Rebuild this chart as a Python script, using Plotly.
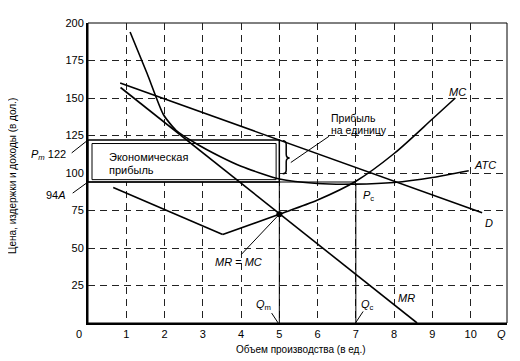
import plotly.graph_objects as go

# ---- data ----
Q_D = [0.84, 10.3]
P_D = [160, 73.5]
Q_MR = [0.85, 8.6]
P_MR = [157, 0]
Q_MC = [0.66, 3.52, 5.0, 6.0, 7.0, 8.0, 9.0, 9.6]
P_MC = [90.4, 59, 72.5, 82, 94.5, 113, 136, 150]
Q_ATC = [1.1, 1.55, 1.97, 2.3, 2.8, 3.45, 4.0, 5.0, 6.0, 7.0, 8.0, 9.0, 9.95]
P_ATC = [194, 166, 139, 128.5, 120, 111, 104.5, 96, 93, 92.6, 93.7, 97, 101.5]
Q_M, P_M, ATC_M = 5, 122, 94
Q_C, P_C = 7, 93
X_TICKS = [1, 2, 3, 4, 5, 6, 7, 8, 9, 10]
Y_TICKS = [25, 50, 75, 100, 125, 150, 175, 200]

XMAX = 10.95
YMAX = 200
FONT = "Liberation Sans, Arial, sans-serif"
LW = 1.6

fig = go.Figure()
line = dict(color="black", width=LW)
fig.add_trace(go.Scatter(x=Q_D, y=P_D, mode="lines", line=line))
fig.add_trace(go.Scatter(x=Q_MR, y=P_MR, mode="lines", line=line))
fig.add_trace(go.Scatter(x=Q_MC[:2], y=P_MC[:2], mode="lines", line=line))
fig.add_trace(go.Scatter(x=Q_MC[1:], y=P_MC[1:], mode="lines",
                         line=dict(color="black", width=LW, shape="spline", smoothing=0.8)))
fig.add_trace(go.Scatter(x=Q_ATC, y=P_ATC, mode="lines",
                         line=dict(color="black", width=LW, shape="spline", smoothing=0.6)))
fig.add_trace(go.Scatter(x=[Q_M], y=[P_MC[2]], mode="markers",
                         marker=dict(color="black", size=6)))

shapes = []
# outer frame top/right (thin)
shapes.append(dict(type="rect", xref="paper", yref="paper", x0=0, y0=0, x1=1, y1=1,
                   line=dict(color="black", width=1), layer="below"))
# profit rectangle (double border): white fill hides the grid, curves stay on top
shapes.append(dict(type="rect", xref="x", yref="y", x0=0, y0=ATC_M, x1=Q_M, y1=P_M,
                   line=dict(color="black", width=0), fillcolor="white", layer="between"))
shapes.append(dict(type="rect", xref="x", yref="y", x0=0, y0=ATC_M, x1=Q_M, y1=P_M,
                   line=dict(color="black", width=1.5), layer="above"))
dx, dy = 4 / 38.27, 4 / 1.5325
shapes.append(dict(type="rect", xref="x", yref="y", x0=0 + dx, y0=ATC_M + dy * 0.6,
                   x1=Q_M - dx * 0.8, y1=P_M - dy * 0.9,
                   line=dict(color="black", width=1), layer="above"))
# horizontal ATC line and verticals
shapes.append(dict(type="line", xref="x", yref="y", x0=0, y0=ATC_M, x1=Q_C, y1=ATC_M,
                   line=dict(color="black", width=1)))
shapes.append(dict(type="line", xref="x", yref="y", x0=Q_M, y0=0, x1=Q_M, y1=ATC_M,
                   line=dict(color="black", width=1)))
shapes.append(dict(type="line", xref="x", yref="y", x0=Q_C, y0=0, x1=Q_C, y1=P_C,
                   line=dict(color="black", width=1)))
# brace
bx0, bx1, bx2 = 5.09, 5.18, 5.27
shapes.append(dict(type="path", xref="x", yref="y",
                   path=(f"M {bx0},121.5 Q {bx1},121.5 {bx1},119 L {bx1},112.5 "
                         f"Q {bx1},110 {bx2},110 Q {bx1},110 {bx1},107.5 L {bx1},102 "
                         f"Q {bx1},99.5 {bx0},99.5"),
                   line=dict(color="black", width=1.5)))
# leader lines
for (x0, y0, x1, y1) in [(5.3, 107, 6.3, 124.5), (6.99, 0, 7.19, 7.7),
                         (4.97, 0, 4.8, 6.6), (4.01, 45.8, Q_M, P_MC[2])]:
    shapes.append(dict(type="line", xref="x", yref="y", x0=x0, y0=y0, x1=x1, y1=y1,
                       line=dict(color="black", width=1)))
# outside leaders (paper coords)
W, H = 419.0, 306.0
shapes.append(dict(type="line", xref="paper", yref="paper",
                   x0=-16.3 / W, y0=(323.5 - 150) / H, x1=0, y1=P_M / YMAX,
                   line=dict(color="black", width=1)))
shapes.append(dict(type="line", xref="paper", yref="paper",
                   x0=-15.3 / W, y0=(323.5 - 191) / H, x1=0, y1=ATC_M / YMAX,
                   line=dict(color="black", width=1)))

ann = []
def lab(x, y, t, size=11, xanchor="center", xref="x", yref="y", **kw):
    ann.append(dict(x=x, y=y, text=t, xref=xref, yref=yref, showarrow=False,
                    xanchor=xanchor, yanchor="middle",
                    font=dict(family=FONT, size=size, color="black"), **kw))

lab(9.66, 154, "<i>MC</i>")
lab(10.37, 105.4, "<i>ATC</i>")
lab(10.47, 66.5, "<i>D</i>")
lab(8.33, 16.6, "<i>MR</i>")
lab(7.32, 85, "<i>P</i><sub>c</sub>")
lab(7.3, 12, "<i>Q</i><sub>c</sub>")
lab(4.58, 12, "<i>Q</i><sub>m</sub>")
lab(3.92, 40.8, "<i>MR</i> = <i>MC</i>")
lab(0.5, 110.5, "Экономическая", xanchor="left")
lab(0.5, 102.3, "прибыль", xanchor="left")
lab(6.3, 137, "Прибыль", size=10.5, xanchor="left")
lab(6.3, 128.9, "на единицу", size=10.5, xanchor="left")
lab(0, P_M / YMAX, "<i>P</i><sub><i>m</i></sub> 122", xanchor="right", xref="paper",
    yref="paper", xshift=-20, yshift=-15.4)
lab(0, ATC_M / YMAX, "94<i>A</i>", xanchor="right", xref="paper",
    yref="paper", xshift=-20, yshift=-13)
lab(-9 / W, -11.5 / H, "0", xref="paper", yref="paper")
lab(413 / W, -11.5 / H, "<i>Q</i>", xref="paper", yref="paper")
lab((301 - 88) / W, -(351 - 323.5) / H, "Объем производства (в ед.)", size=10,
    xref="paper", yref="paper")
lab((12.5 - 88) / W, (323.5 - 174) / H, "Цена, издержки и доходы (в дол.)", size=10,
    xref="paper", yref="paper", textangle=-90)

grid = dict(showgrid=True, gridcolor="#222", gridwidth=1, griddash="7px,5px",
            showline=True, linecolor="black", linewidth=2, zeroline=False,
            ticks="", tickfont=dict(family=FONT, size=11, color="black"))
fig.update_layout(
    width=512, height=353, margin=dict(l=80, r=13, t=9, b=38),
    paper_bgcolor="white", plot_bgcolor="white", showlegend=False,
    xaxis=dict(range=[0, XMAX], tickvals=X_TICKS, **grid),
    yaxis=dict(range=[0, YMAX], tickvals=Y_TICKS, **grid),
    shapes=shapes, annotations=ann,
)
fig.write_html("out.html")
